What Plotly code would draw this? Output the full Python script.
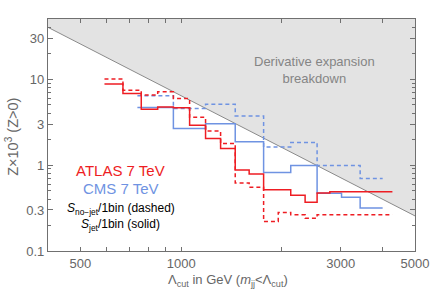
import plotly.graph_objects as go
import numpy as np

# ---------------- data ----------------
atlas_solid_edges = [590, 670, 760, 851, 948, 1060, 1183, 1312, 1451, 1597, 1764, 2126, 2347, 2549, 2783, 4280]
atlas_solid_vals = [8.74, 6.80, 4.46, 4.74, 4.64, 2.90, 2.03, 1.56, 0.874, 0.789, 0.517, 0.444, 0.369, 0.473, 0.490]

atlas_dash_edges = [590, 670, 760, 851, 948, 1060, 1183, 1312, 1451, 1597, 1764, 1951, 2126, 2347, 2549, 4280]
atlas_dash_vals = [10.0, 7.43, 6.55, 7.10, 5.95, 3.59, 2.49, 1.78, 0.619, 0.553, 0.220, 0.281, 0.264, 0.240, 0.264]

cms_solid_edges = [740, 948, 1183, 1451, 1764, 2126, 2549, 3016, 3428, 4002]
cms_solid_vals = [4.67, 2.67, 3.03, 1.87, 0.817, 0.986, 0.471, 0.422, 0.316]

cms_dash_edges = [740, 948, 1183, 1451, 1764, 2126, 2549, 3428, 4002]
cms_dash_vals = [6.38, 4.54, 5.10, 3.72, 1.62, 1.83, 0.986, 0.695]

breakdown_const = 6.4e6   # Z*1e3 = C / Lambda^2
x_range = [400, 5000]
y_range = [0.1, 50]

x_tickvals = [500, 600, 700, 800, 900, 1000, 2000, 3000, 4000, 5000]
x_ticktext = ["500", "", "", "", "", "1000", "", "3000", "", "5000"]
y_tickvals = [0.1, 0.3, 1, 3, 10, 30]
y_ticktext = ["0.1", "0.3", "1", "3", "10", "30"]
y_minor = [0.2, 0.4, 0.5, 0.6, 0.7, 0.8, 0.9, 2, 4, 5, 6, 7, 8, 9, 20, 40, 50]

RED = "#ee1d23"
BLUE = "#6f93e2"

# ---------------- layout geometry ----------------
W, H = 441, 299
ML, MR, MT, MB = 48, 18, 19, 48
PW, PH = W - ML - MR, H - MT - MB


def px_x(p):
    return (p - ML) / PW


def px_y(p):
    return (H - MB - p) / PH


fig = go.Figure()

# grey breakdown region
bx = np.array(x_range, dtype=float)
by = breakdown_const / bx ** 2
fig.add_trace(go.Scatter(
    x=[bx[0], bx[1], bx[1], bx[0], bx[0]],
    y=[by[0], by[1], y_range[1], y_range[1], by[0]],
    fill="toself", fillcolor="#e3e3e3", mode="lines",
    line=dict(width=0), hoverinfo="skip", showlegend=False))
fig.add_trace(go.Scatter(x=bx, y=by, mode="lines",
                         line=dict(color="#8a8a8a", width=1), showlegend=False))


def step(edges, vals, color, dash):
    fig.add_trace(go.Scatter(
        x=edges, y=list(vals) + [vals[-1]], mode="lines", line_shape="hv",
        line=dict(color=color, width=1.5, dash=dash), showlegend=False))


step(cms_dash_edges, cms_dash_vals, BLUE, "4px,3px")
step(cms_solid_edges, cms_solid_vals, BLUE, "solid")
step(atlas_dash_edges, atlas_dash_vals, RED, "4px,3px")
step(atlas_solid_edges, atlas_solid_vals, RED, "solid")

axis_common = dict(
    type="log", showline=True, linecolor="#707070", linewidth=1.2, mirror="allticks",
    ticks="inside", tickcolor="#707070", showgrid=False, zeroline=False,
    tickfont=dict(family="Liberation Sans, Arial", size=13, color="#666666"),
)

fig.update_xaxes(**axis_common, range=[np.log10(x_range[0]), np.log10(x_range[1])],
                 tickmode="array", tickvals=x_tickvals, ticktext=x_ticktext, ticklen=4)
fig.update_yaxes(**axis_common, range=[np.log10(y_range[0]), np.log10(y_range[1])],
                 tickmode="array", tickvals=y_tickvals, ticktext=y_ticktext, ticklen=5,
                 minor=dict(tickmode="array", tickvals=y_minor, ticks="inside", ticklen=2.5,
                            tickcolor="#707070", showgrid=False))

ann_font = dict(family="Liberation Sans, Arial")
annotations = [
    dict(text="Derivative expansion<br>breakdown", x=px_x(320), y=px_y(70),
         font=dict(**ann_font, size=13, color="#858585")),
    dict(text="ATLAS 7 TeV", x=px_x(122.5), y=px_y(170.5), font=dict(**ann_font, size=15, color=RED)),
    dict(text="CMS 7 TeV", x=px_x(122.5), y=px_y(188), font=dict(**ann_font, size=15, color=BLUE)),
    dict(text="<i>S</i><sub>no\u2212jet</sub>/1bin (dashed)", x=px_x(123), y=px_y(209),
         font=dict(**ann_font, size=12, color="black")),
    dict(text="<i>S</i><sub>jet</sub>/1bin (solid)", x=px_x(122.5), y=px_y(225),
         font=dict(**ann_font, size=12, color="black")),
    dict(text="\u039b<sub>cut</sub> in GeV (<i>m</i><sub>jj</sub>&lt;\u039b<sub>cut</sub>)",
         x=px_x(232), y=px_y(280), font=dict(**ann_font, size=13, color="#666666")),
    dict(text="Z\u00d710<sup>3</sup> (Z&gt;0)", x=px_x(11), y=px_y(137), textangle=-90,
         font=dict(**ann_font, size=14.5, color="#666666")),
]
for a in annotations:
    a.update(xref="paper", yref="paper", showarrow=False, xanchor="center", yanchor="middle")

fig.update_layout(
    width=W, height=H, margin=dict(l=ML, r=MR, t=MT, b=MB),
    paper_bgcolor="white", plot_bgcolor="white",
    annotations=annotations, showlegend=False,
)

fig.write_html("out.html", config={"displayModeBar": False},
               post_script="document.body.style.margin='0';document.body.style.padding='0';")
